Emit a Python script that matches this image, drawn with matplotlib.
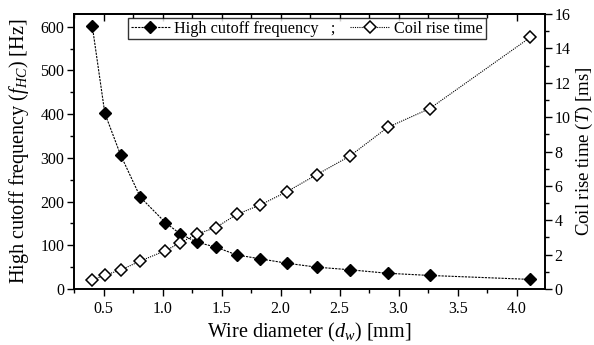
import matplotlib
matplotlib.use("Agg")
import matplotlib.pyplot as plt
from matplotlib.ticker import MultipleLocator

plt.rcParams["font.family"] = ["Liberation Serif", "DejaVu Serif"]
plt.rcParams["mathtext.fontset"] = "custom"
plt.rcParams["mathtext.rm"] = "Liberation Serif"
plt.rcParams["mathtext.it"] = "Liberation Serif:italic"

# wire diameters (AWG sizes), mm
diam = [0.405, 0.511, 0.644, 0.812, 1.024, 1.150, 1.291, 1.450,
        1.628, 1.828, 2.053, 2.305, 2.588, 2.906, 3.264, 4.115]
# high cutoff frequency, Hz
f_hc = [601, 402, 307, 210, 152, 126, 107, 96,
        78, 69, 59, 50, 44, 36, 31, 22]
# coil rise time, ms
rise = [0.52, 0.81, 1.10, 1.63, 2.23, 2.69, 3.20, 3.57,
        4.34, 4.89, 5.66, 6.65, 7.74, 9.40, 10.50, 14.64]

fig = plt.figure(figsize=(5.94, 3.45), dpi=100)
ax = fig.add_axes([0.1246, 0.1623, 0.7929, 0.7971])
ax2 = ax.twinx()

l1, = ax.plot(diam, f_hc, ls=(0, (2, 1)), lw=0.8, color="black",
              marker="D", ms=6.5, mfc="black", mec="black",
              label="High cutoff frequency   ;")
l2, = ax2.plot(diam, rise, ls=(0, (1, 1)), lw=0.8, color="black",
               marker="D", ms=6, mfc="white", mec="black", mew=1.1,
               label="Coil rise time")

ax.set_xlim(0.25, 4.24)
ax.set_ylim(0, 629)
ax2.set_ylim(0, 16)

ax.xaxis.set_major_locator(MultipleLocator(0.5))
ax.xaxis.set_minor_locator(MultipleLocator(0.25))
ax.yaxis.set_major_locator(MultipleLocator(100))
ax.yaxis.set_minor_locator(MultipleLocator(50))
ax2.yaxis.set_major_locator(MultipleLocator(2))
ax2.yaxis.set_minor_locator(MultipleLocator(1))

# bottom ticks outward, top ticks inward (unlabelled)
ax.tick_params(axis="x", which="both", direction="out", top=False, labelsize=11.5)
ax.tick_params(axis="x", which="major", length=5, width=1)
ax.tick_params(axis="x", which="minor", length=3, width=1)
top = ax.secondary_xaxis("top")
top.xaxis.set_major_locator(MultipleLocator(0.5))
top.xaxis.set_minor_locator(MultipleLocator(0.25))
top.tick_params(axis="x", which="both", direction="in", labeltop=False)
top.tick_params(axis="x", which="major", length=5, width=1)
top.tick_params(axis="x", which="minor", length=3, width=1)
top.spines["top"].set_linewidth(1.2)

ax.tick_params(axis="y", which="major", direction="out", length=5, width=1,
               labelsize=11.5, pad=2)
ax.tick_params(axis="y", which="minor", direction="out", length=3, width=1)
ax2.tick_params(axis="y", which="major", direction="out", length=5, width=1,
                labelsize=11.5, pad=2)
ax2.tick_params(axis="y", which="minor", direction="out", length=3, width=1)
for sp in list(ax.spines.values()) + list(ax2.spines.values()):
    sp.set_linewidth(1.2)

ax.set_xticklabels([f"{t:.1f}" for t in ax.get_xticks()])
ax.set_xlabel(r"Wire diameter ($d_w$) [mm]", fontsize=14.5, labelpad=3)
ax.set_ylabel(r"High cutoff frequency ($f_{HC}$) [Hz]", fontsize=14.5, labelpad=7)
ax2.set_ylabel(r"Coil rise time ($T$) [ms]", fontsize=13.5, labelpad=2)

leg = ax.legend(handles=[l1, l2], ncol=2, loc="upper left",
                bbox_to_anchor=(0.115, 0.985), fontsize=11.7,
                frameon=True, fancybox=False, edgecolor="black",
                handlelength=2.4, handletextpad=0.3, columnspacing=0.9,
                borderpad=0.15, borderaxespad=0)
leg.get_frame().set_linewidth(1.0)

fig.savefig("out.png", dpi=100)
